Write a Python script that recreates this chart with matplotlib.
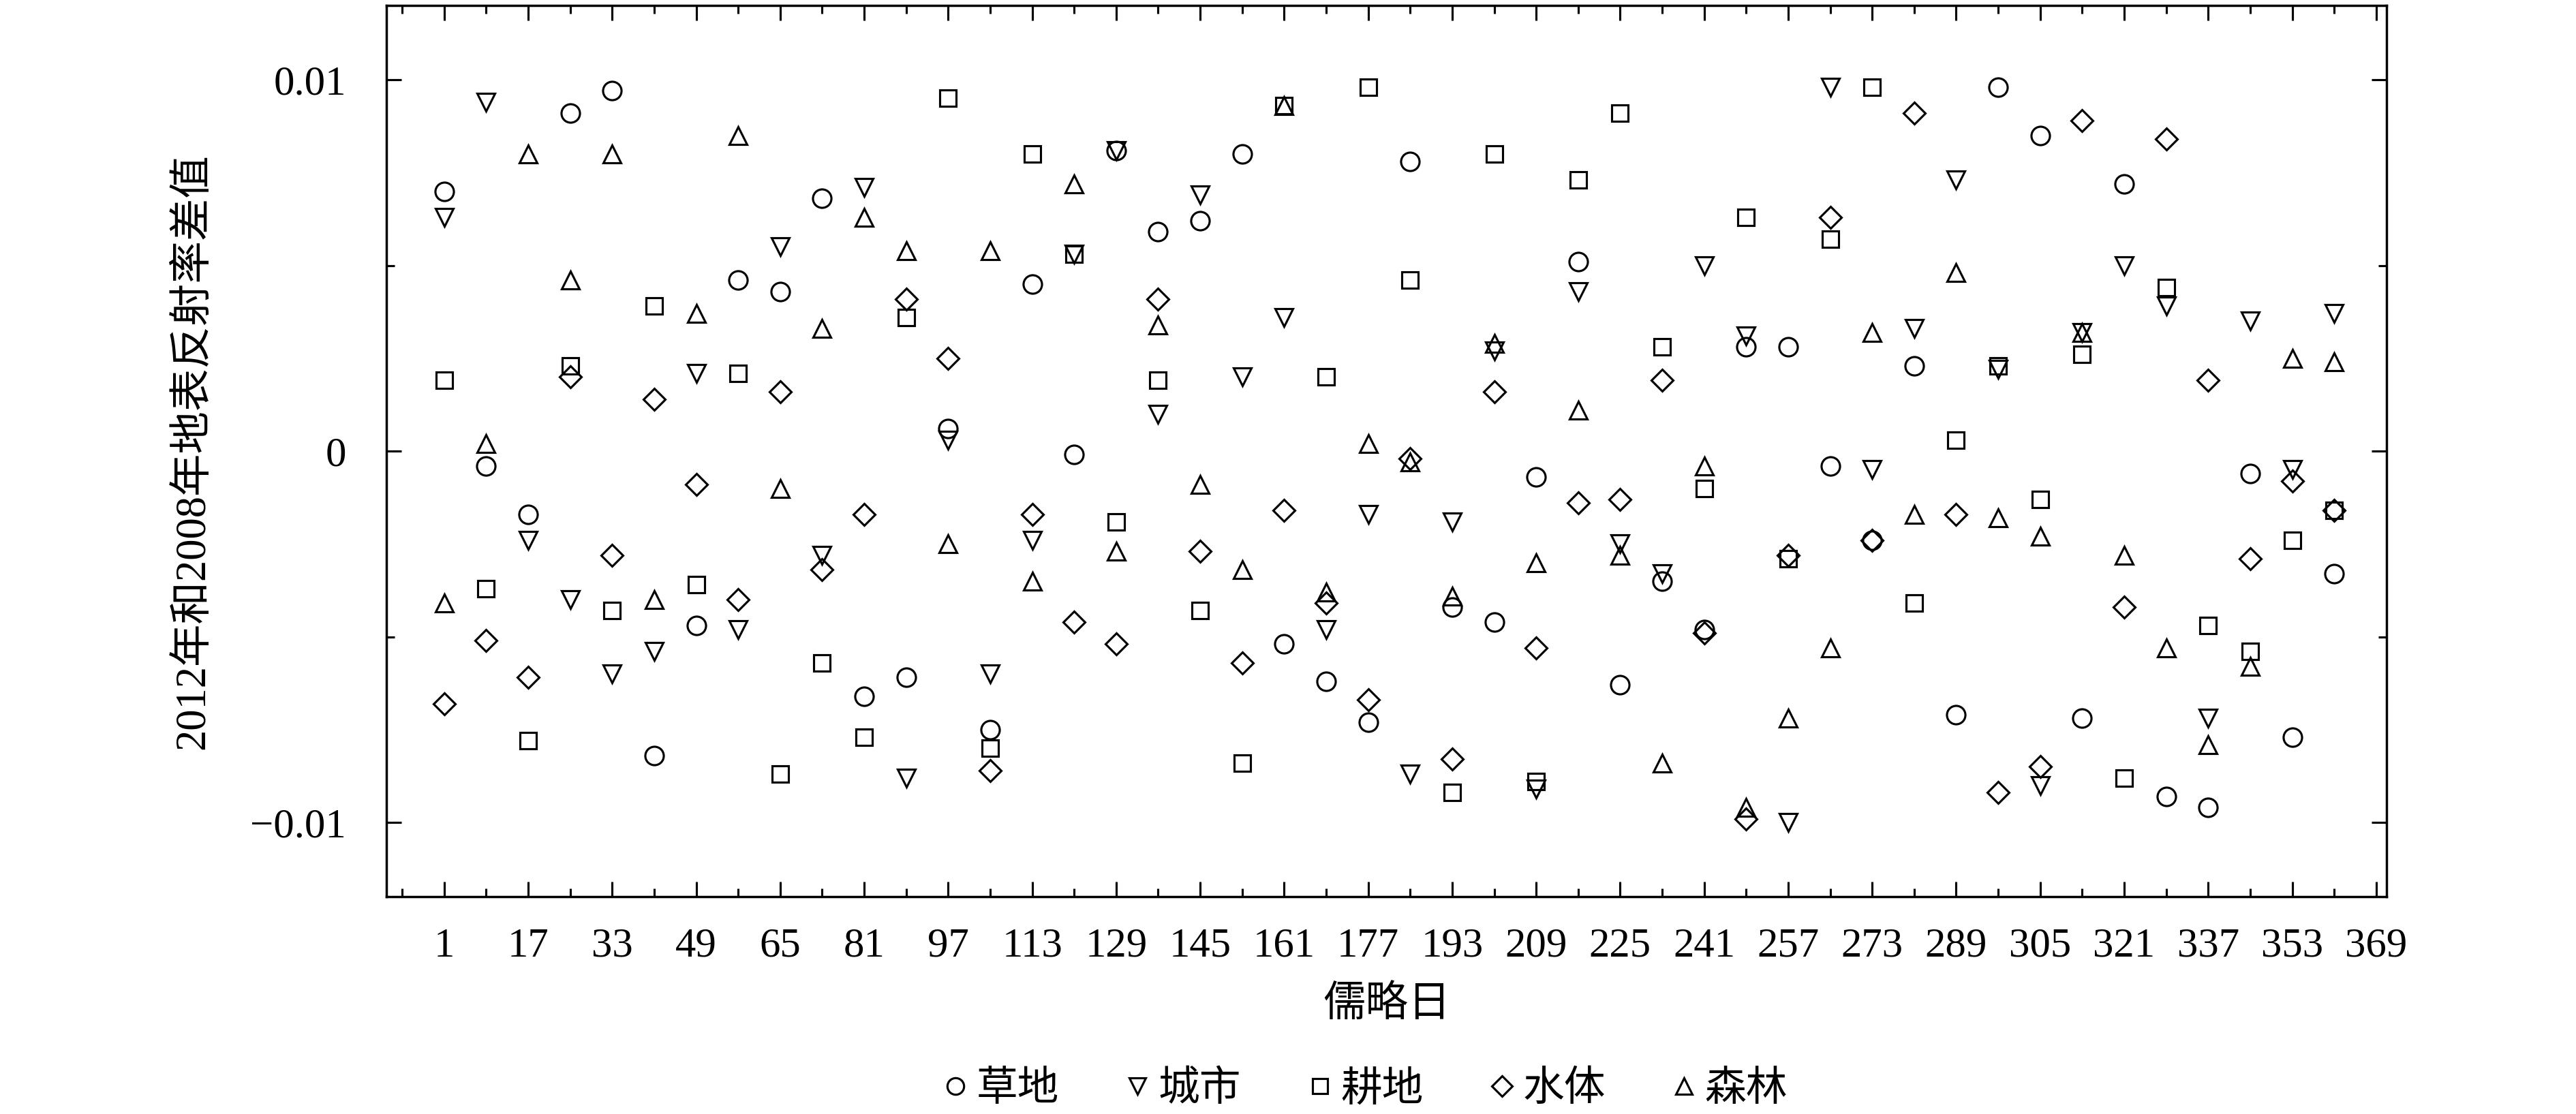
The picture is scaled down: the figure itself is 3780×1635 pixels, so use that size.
import numpy as np
import matplotlib
matplotlib.use('Agg')
import matplotlib.pyplot as plt
from matplotlib.ticker import FixedLocator

plt.rcParams['font.family'] = ['Liberation Serif', 'Noto Sans CJK SC']
plt.rcParams['axes.unicode_minus'] = True

# 儒略日（8 天间隔）
days = [1, 9, 17, 25, 33, 41, 49, 57, 65, 73, 81, 89, 97, 105, 113, 121,
        129, 137, 145, 153, 161, 169, 177, 185, 193, 201, 209, 217, 225,
        233, 241, 249, 257, 265, 273, 281, 289, 297, 305, 313, 321, 329,
        337, 345, 353, 361]

grass = [0.0070, -0.0004, -0.0017, 0.0091, 0.0097, -0.0082, -0.0047, 0.0046,
         0.0043, 0.0068, -0.0066, -0.0061, 0.0006, -0.0075, 0.0045, -0.0001,
         0.0081, 0.0059, 0.0062, 0.0080, -0.0052, -0.0062, -0.0073, 0.0078,
         -0.0042, -0.0046, -0.0007, 0.0051, -0.0063, -0.0035, -0.0048, 0.0028,
         0.0028, -0.0004, -0.0024, 0.0023, -0.0071, 0.0098, 0.0085, -0.0072,
         0.0072, -0.0093, -0.0096, -0.0006, -0.0077, -0.0033]
city = [0.0063, 0.0094, -0.0024, -0.0040, -0.0060, -0.0054, 0.0021, -0.0048,
        0.0055, -0.0028, 0.0071, -0.0088, 0.0003, -0.0060, -0.0024, 0.0053,
        0.0081, 0.0010, 0.0069, 0.0020, 0.0036, -0.0048, -0.0017, -0.0087,
        -0.0019, 0.0027, -0.0091, 0.0043, -0.0025, -0.0033, 0.0050, 0.0031,
        -0.0100, 0.0098, -0.0005, 0.0033, 0.0073, 0.0022, -0.0090, 0.0032,
        0.0050, 0.0039, -0.0072, 0.0035, -0.0005, 0.0037]
cropland = [0.0019, -0.0037, -0.0078, 0.0023, -0.0043, 0.0039, -0.0036, 0.0021,
            -0.0087, -0.0057, -0.0077, 0.0036, 0.0095, -0.0080, 0.0080, 0.0053,
            -0.0019, 0.0019, -0.0043, -0.0084, 0.0093, 0.0020, 0.0098, 0.0046,
            -0.0092, 0.0080, -0.0089, 0.0073, 0.0091, 0.0028, -0.0010, 0.0063,
            -0.0029, 0.0057, 0.0098, -0.0041, 0.0003, 0.0023, -0.0013, 0.0026,
            -0.0088, 0.0044, -0.0047, -0.0054, -0.0024, -0.0016]
water = [-0.0068, -0.0051, -0.0061, 0.0020, -0.0028, 0.0014, -0.0009, -0.0040,
         0.0016, -0.0032, -0.0017, 0.0041, 0.0025, -0.0086, -0.0017, -0.0046,
         -0.0052, 0.0041, -0.0027, -0.0057, -0.0016, -0.0041, -0.0067, -0.0002,
         -0.0083, 0.0016, -0.0053, -0.0014, -0.0013, 0.0019, -0.0049, -0.0099,
         -0.0028, 0.0063, -0.0024, 0.0091, -0.0017, -0.0092, -0.0085, 0.0089,
         -0.0042, 0.0084, 0.0019, -0.0029, -0.0008, -0.0016]
forest = [-0.0041, 0.0002, 0.0080, 0.0046, 0.0080, -0.0040, 0.0037, 0.0085,
          -0.0010, 0.0033, 0.0063, 0.0054, -0.0025, 0.0054, -0.0035, 0.0072,
          -0.0027, 0.0034, -0.0009, -0.0032, 0.0093, -0.0038, 0.0002, -0.0003,
          -0.0039, 0.0029, -0.0030, 0.0011, -0.0028, -0.0084, -0.0004, -0.0096,
          -0.0072, -0.0053, 0.0032, -0.0017, 0.0048, -0.0018, -0.0023, 0.0032,
          -0.0028, -0.0053, -0.0079, -0.0058, 0.0025, 0.0024]

series_names = ['草地', '城市', '耕地', '水体', '森林']
major_days = [1, 17, 33, 49, 65, 81, 97, 113, 129, 145, 161, 177, 193, 209,
              225, 241, 257, 273, 289, 305, 321, 337, 353, 369]
y_ticks = [-0.01, 0, 0.01]
y_tick_labels = ['\u22120.01', '0', '0.01']

fig = plt.figure(figsize=(15.12, 6.54), dpi=250)
ax = fig.add_axes([0.15, 0.1951, 0.7765, 0.8])

styles = [('o', 7.8), ('v', 7.6), ('s', 6.9), ('D', 6.6), ('^', 7.6)]
handles = []
for vals, name, (mk, ms) in zip([grass, city, cropland, water, forest], series_names, styles):
    h, = ax.plot(days, vals, linestyle='none', marker=mk, markersize=ms,
                 markerfacecolor='none', markeredgecolor='black',
                 markeredgewidth=0.9, label=name)
    handles.append(h)

ax.set_xlim(-10, 371)
ax.set_ylim(-0.012, 0.012)
ax.xaxis.set_major_locator(FixedLocator(major_days))
ax.xaxis.set_minor_locator(FixedLocator(np.arange(-7, 372, 16)))
ax.set_xticklabels([str(d) for d in major_days])
ax.yaxis.set_major_locator(FixedLocator(y_ticks))
ax.yaxis.set_minor_locator(FixedLocator([-0.005, 0.005]))
ax.set_yticklabels(y_tick_labels)

ax.tick_params(which='both', direction='in', top=True, right=True, width=0.9)
ax.tick_params(which='major', length=6.3)
ax.tick_params(which='minor', length=3.5)
ax.tick_params(axis='x', which='major', labelsize=17.5, pad=13)
ax.tick_params(axis='y', which='major', labelsize=17.5, pad=17)
for sp in ax.spines.values():
    sp.set_linewidth(1.0)

ax.set_xlabel('儒略日', fontsize=18)
ax.xaxis.set_label_coords(0.5, -0.1)
ax.set_ylabel('2012年和2008年地表反射率差值', fontsize=18)
ax.yaxis.set_label_coords(-0.0865, 0.5)

fig.legend(handles=handles, loc='center', bbox_to_anchor=(0.530, 0.0214),
           ncol=5, frameon=False, fontsize=17.5, handlelength=0.6,
           handletextpad=0.2, columnspacing=1.6, markerscale=0.9)

fig.savefig('out.png', dpi=250)
